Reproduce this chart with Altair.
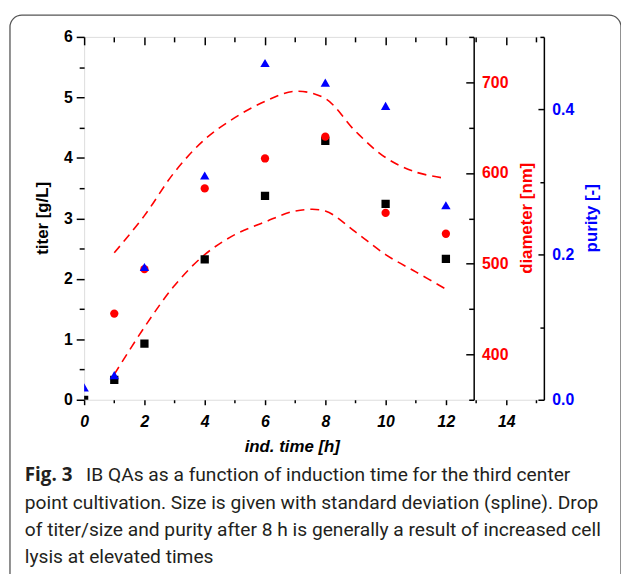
import altair as alt
import pandas as pd

# ---------------- data ----------------
times = [0, 1, 2, 4, 6, 8, 10, 12]
titer = [0.0, 0.33, 0.93, 2.32, 3.37, 4.28, 3.24, 2.33]
purity = [0.017, 0.034, 0.183, 0.309, 0.464, 0.437, 0.405, 0.268]

diam_times = [1, 2, 4, 6, 8, 10, 12]
diameter = [445, 494, 583, 616, 640, 556, 533]

spline_times = [1, 2, 3, 4, 5, 6, 7, 8, 9, 10, 11, 12]
upper_sd = [512, 553, 601, 637, 661, 679, 690, 682, 646, 617, 601, 594]
lower_sd = [378, 430, 476, 510, 532, 546, 558, 558, 535, 510, 491, 472]

x_ticks = list(range(0, 16))
titer_ticks = [i * 0.5 for i in range(13)]
diam_ticks = [350, 400, 450, 500, 550, 600, 650, 700, 750]
diam_labels = [400, 500, 600, 700]
purity_ticks = [0.0, 0.1, 0.2, 0.3, 0.4, 0.5]
purity_labels = [0.0, 0.2, 0.4]

caption_fig = "Fig. 3"
caption_line1 = "IB QAs as a function of induction time for the third center"
caption_rest = [
    "point cultivation. Size is given with standard deviation (spline). Drop",
    "of titer/size and purity after 8 h is generally a result of increased cell",
    "lysis at elevated times",
]

# ---------------- tables ----------------
df_main = pd.DataFrame({"t": times, "titer": titer, "purity": purity})
df_diam = pd.DataFrame({"t": diam_times, "diameter": diameter})
df_spl = pd.concat([
    pd.DataFrame({"t": spline_times, "d": upper_sd, "bound": "upper"}),
    pd.DataFrame({"t": spline_times, "d": lower_sd, "bound": "lower"}),
])
one = pd.DataFrame({"a": [0]})

W, H = 465, 367
XDOM = [0, 15.25]
FONT = "Liberation Sans"

xs = alt.Scale(domain=XDOM, nice=False, zero=False)
ys_titer = alt.Scale(domain=[0, 6], nice=False, zero=False)
ys_diam = alt.Scale(domain=[350, 750], nice=False, zero=False)
ys_pur = alt.Scale(domain=[0, 0.5], nice=False, zero=False)

def tick_cond(test, major, minor):
    return {"condition": {"test": test, "value": major}, "value": minor}

# 1. titer squares (bottom x axis + left y axis)
squares = alt.Chart(df_main).mark_point(
    shape="square", filled=True, size=70, color="black", opacity=1, clip=True
).encode(
    x=alt.X("t:Q", scale=xs, axis=alt.Axis(
        orient="bottom", values=x_ticks,
        labelExpr="datum.value % 2 == 0 ? format(datum.value, 'd') : ''",
        tickSize=tick_cond("datum.value % 2 == 0", 5, 3),
        tickColor="black", tickWidth=1.5, domain=False,
        labelFont=FONT, labelFontSize=16, labelFontWeight="bold",
        labelFontStyle="italic", labelColor="black", labelPadding=9,
        labelFlush=False,
        title="ind. time [h]", titleFont=FONT, titleFontSize=17,
        titleFontWeight="bold", titleFontStyle="italic", titleColor="black",
        titleX=210, titleY=52, titleBaseline="alphabetic", grid=False)),
    y=alt.Y("titer:Q", scale=ys_titer, axis=alt.Axis(
        orient="left", values=titer_ticks,
        labelExpr="datum.value % 1 == 0 ? format(datum.value, 'd') : ''",
        tickSize=tick_cond("datum.value % 1 == 0", 8, 5),
        tickColor="black", tickWidth=1.5, domain=False,
        labelFont=FONT, labelFontSize=16, labelFontWeight="bold",
        labelColor="black", labelPadding=4, labelFlush=False,
        title="titer [g/L]", titleFont=FONT, titleFontSize=17,
        titleFontWeight="bold", titleColor="black",
        titleAngle=270, titleAlign="center", titleBaseline="middle",
        titleX=-42, titleY=183, grid=False)),
)

# 2. top ticks (inward)
top_ticks = alt.Chart(df_main).mark_point(opacity=0).encode(
    x=alt.X("t:Q", scale=xs, axis=alt.Axis(
        orient="bottom", offset=-H, values=x_ticks, labels=False,
        tickSize=tick_cond("datum.value % 2 == 0", 8, 5),
        tickColor="black", tickWidth=1.5, domain=False, title=None, grid=False)),
    y=alt.Y("titer:Q", scale=ys_titer, axis=None),
)

# 3. dashed spline lines (diameter ± SD)
lines = alt.Chart(df_spl).mark_line(
    color="#ff0000", strokeWidth=1.6, strokeDash=[9, 6], interpolate="catmull-rom"
).encode(
    x=alt.X("t:Q", scale=xs, axis=None),
    y=alt.Y("d:Q", scale=ys_diam, axis=None),
    detail="bound:N",
)

# 4. diameter circles + labelled axis at t=13
circles = alt.Chart(df_diam).mark_circle(size=70, color="#ff0000", opacity=1).encode(
    x=alt.X("t:Q", scale=xs, axis=None),
    y=alt.Y("diameter:Q", scale=ys_diam, axis=alt.Axis(
        orient="right", offset=-71, values=diam_labels, ticks=False,
        domainColor="black", domainWidth=1.5,
        labelFont=FONT, labelFontSize=16, labelFontWeight="bold",
        labelColor="#ff0000", labelPadding=8, labelFlush=False,
        title="diameter [nm]", titleFont=FONT, titleFontSize=17,
        titleFontWeight="bold", titleColor="#ff0000", titleAngle=270,
        titleAlign="center", titleBaseline="middle",
        titleX=53, titleY=183, grid=False)),
)

# 5. diameter inward ticks
diam_tick_layer = alt.Chart(df_diam).mark_point(opacity=0).encode(
    x=alt.X("t:Q", scale=xs, axis=None),
    y=alt.Y("diameter:Q", scale=ys_diam, axis=alt.Axis(
        orient="left", offset=-(W - 71), values=diam_ticks, labels=False,
        tickSize=tick_cond("datum.value % 100 == 0", 8, 5),
        tickColor="black", tickWidth=1.5, domain=False, title=None, grid=False)),
)

# 6. purity triangles + labelled right axis
triangles = alt.Chart(df_main).mark_point(
    shape="triangle-up", filled=True, size=90, color="#0000ff", opacity=1, clip=True
).encode(
    x=alt.X("t:Q", scale=xs, axis=None),
    y=alt.Y("purity:Q", scale=ys_pur, axis=alt.Axis(
        orient="right", offset=0, values=purity_labels, format=".1f",
        ticks=False, domainColor="black", domainWidth=1.5,
        labelFont=FONT, labelFontSize=16, labelFontWeight="bold",
        labelColor="#0000ff", labelPadding=8, labelFlush=False,
        title="purity [-]", titleFont=FONT, titleFontSize=17,
        titleFontWeight="bold", titleColor="#0000ff", titleAngle=270,
        titleAlign="center", titleBaseline="middle",
        titleX=48, titleY=183, grid=False)),
)

# 7. purity inward ticks
pur_tick_layer = alt.Chart(df_main).mark_point(opacity=0).encode(
    x=alt.X("t:Q", scale=xs, axis=None),
    y=alt.Y("purity:Q", scale=ys_pur, axis=alt.Axis(
        orient="left", offset=-W, values=purity_ticks, labels=False,
        tickSize=tick_cond("datum.value == 0 || datum.value == 0.2 || datum.value == 0.4", 6, 4),
        tickColor="black", tickWidth=1.5, domain=False, title=None, grid=False)),
)

# figure frame and caption
frame = alt.Chart(one).mark_rect(
    fillOpacity=0, stroke="#555555", strokeWidth=1.3, cornerRadius=12
).encode(x=alt.value(-75), x2=alt.value(543), y=alt.value(-22), y2=alt.value(620))

cap_fig = alt.Chart(one).mark_text(
    text=caption_fig, font="Open Sans", fontSize=19, fontWeight="bold",
    align="left", baseline="alphabetic", color="#231f20"
).encode(x=alt.value(-60), y=alt.value(449))

cap_l1 = alt.Chart(one).mark_text(
    text=caption_line1, font="Roboto", fontSize=19.4,
    align="left", baseline="alphabetic", color="#231f20"
).encode(x=alt.value(2), y=alt.value(449))

cap_rest = alt.Chart(one).mark_text(
    text=caption_rest, font="Roboto", fontSize=19.4, lineHeight=27.7,
    align="left", baseline="alphabetic", color="#231f20"
).encode(x=alt.value(-60), y=alt.value(477))

chart = alt.layer(
    frame, lines, squares, top_ticks, circles, diam_tick_layer,
    triangles, pur_tick_layer, cap_fig, cap_l1, cap_rest
).resolve_scale(x="independent", y="independent").resolve_axis(
    x="independent", y="independent"
).properties(
    width=W, height=H,
    autosize=alt.AutoSizeParams(type="none"),
    padding={"left": 77, "top": 26, "right": 78, "bottom": 174},
).configure_view(stroke="black", strokeWidth=1.5).configure(background="white")

chart.save("out.html", embed_options={"renderer": "svg", "actions": False})
